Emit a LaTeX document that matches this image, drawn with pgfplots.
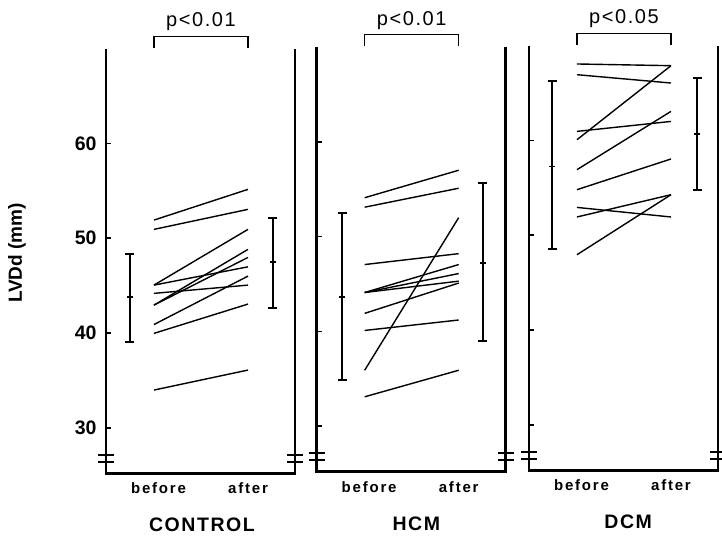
\documentclass[border=0pt]{standalone}
\usepackage{fontspec}
\setmainfont{Liberation Sans}
\newfontfamily\spaced[LetterSpace=8]{Liberation Sans}
\newfontfamily\spacedB[LetterSpace=12]{Liberation Sans}
\usepackage{pgfplots}
\pgfplotsset{compat=1.18}
\pgfplotsset{
 panel/.style={
  scale only axis, width=189pt, height=424.7pt,
  xmin=-0.51, xmax=1.5, ymin=25.2, ymax=70,
  clip=false,
  axis x line*=bottom, axis y line*=left,
  axis line style={draw=none},
  xtick={0,1}, xticklabels={\hspace*{9pt}before,after},
  x tick style={draw=none},
  major tick length=5pt,
  ytick={30,40,50,60},
  y tick style={line width=1.5pt, black},
  tick align=inside,
  xticklabel style={font=\spacedB\bfseries\fontsize{15}{15}\selectfont, yshift=-6pt},
  yticklabel style={font=\bfseries\fontsize{19.5}{19.5}\selectfont, xshift=-6pt},
  /pgf/number format/assume math mode=true,
  anchor=south west,
 },
 pair/.style={black, line width=1.4pt, no markers},
 ebar/.style={black, line width=2.2pt, mark=-, mark size=3pt, mark options={line width=1.5pt},
   error bars/.cd, y dir=both, y explicit,
   error mark=|,
   error bar style={line width=2.2pt},
   error mark options={line width=2pt, mark size=4.5pt}},
}
\newcommand{\frameit}{%
  \draw[line width=2.6pt] (axis cs:-0.51,70) -- (axis cs:-0.51,25.2) -- (axis cs:1.5,25.2) -- (axis cs:1.5,70);
  \draw[line width=2pt] (axis cs:-0.595,27.12) -- (axis cs:-0.425,27.12);
  \draw[line width=2pt] (axis cs:-0.595,26.40) -- (axis cs:-0.425,26.40);
  \draw[line width=2pt] (axis cs:1.415,27.12) -- (axis cs:1.585,27.12);
  \draw[line width=2pt] (axis cs:1.415,26.40) -- (axis cs:1.585,26.40);
  \draw[line width=1.5pt] (axis cs:0,70.1) -- (axis cs:0,71.3) -- (axis cs:1,71.3) -- (axis cs:1,70.1);
}
\begin{document}
\begin{tikzpicture}
\path[use as bounding box] (0,0) rectangle (722pt,537pt);
% ---------------- CONTROL
\begin{axis}[panel, at={(106pt,63.7pt)}]
\frameit
\node[font=\spaced\fontsize{20}{20}\selectfont, anchor=base] at (axis cs:0.5,72.28) {p<0.01};
\node[font=\spaced\bfseries\fontsize{19.5}{19.5}\selectfont, anchor=base] at (axis cs:0.51,19.04) {CONTROL};
\node[rotate=90, font=\bfseries\fontsize{19}{19}\selectfont] at (axis cs:-1.457,48.44) {LVDd (mm)};
\addplot[pair] coordinates {(0,51.91) (1,55.15)};
\addplot[pair] coordinates {(0,50.93) (1,53.04)};
\addplot[pair] coordinates {(0,45.05) (1,50.93)};
\addplot[pair] coordinates {(0,45.05) (1,46.98)};
\addplot[pair] coordinates {(0,44.18) (1,45.05)};
\addplot[pair] coordinates {(0,42.94) (1,48.82)};
\addplot[pair] coordinates {(0,42.94) (1,47.97)};
\addplot[pair] coordinates {(0,40.89) (1,46.00)};
\addplot[pair] coordinates {(0,39.96) (1,43.05)};
\addplot[pair] coordinates {(0,33.98) (1,36.09)};
\addplot[ebar] coordinates {(-0.255,43.8) += (0,4.5) -= (0,4.7)};
\addplot[ebar] coordinates {(1.265,47.5) += (0,4.6) -= (0,4.9)};
\end{axis}
% ---------------- HCM
\begin{axis}[panel, at={(316.7pt,65.3pt)}, yticklabels={}]
\frameit
\node[font=\spaced\fontsize{20}{20}\selectfont, anchor=base] at (axis cs:0.5,72.28) {p<0.01};
\node[font=\spaced\bfseries\fontsize{19.5}{19.5}\selectfont, anchor=base] at (axis cs:0.55,19.04) {HCM};
\addplot[pair] coordinates {(0,54.1) (1,57.0)};
\addplot[pair] coordinates {(0,53.1) (1,55.1)};
\addplot[pair] coordinates {(0,35.9) (1,52.0)};
\addplot[pair] coordinates {(0,47.05) (1,48.2)};
\addplot[pair] coordinates {(0,44.1) (1,47.05)};
\addplot[pair] coordinates {(0,44.1) (1,46.1)};
\addplot[pair] coordinates {(0,44.1) (1,45.3)};
\addplot[pair] coordinates {(0,41.9) (1,45.1)};
\addplot[pair] coordinates {(0,40.1) (1,41.2)};
\addplot[pair] coordinates {(0,33.1) (1,35.9)};
\addplot[ebar] coordinates {(-0.238,43.65) += (0,8.85) -= (0,8.75)};
\addplot[ebar] coordinates {(1.256,47.2) += (0,8.5) -= (0,8.2)};
\end{axis}
% ---------------- DCM
\begin{axis}[panel, at={(529pt,66.7pt)}, yticklabels={}]
\frameit
\node[font=\spaced\fontsize{20}{20}\selectfont, anchor=base] at (axis cs:0.5,72.28) {p<0.05};
\node[font=\spaced\bfseries\fontsize{19.5}{19.5}\selectfont, anchor=base] at (axis cs:0.545,19.04) {DCM};
\addplot[pair] coordinates {(0,68.06) (1,67.88)};
\addplot[pair] coordinates {(0,66.93) (1,66.05)};
\addplot[pair] coordinates {(0,60.07) (1,67.88)};
\addplot[pair] coordinates {(0,60.95) (1,62.0)};
\addplot[pair] coordinates {(0,56.91) (1,63.06)};
\addplot[pair] coordinates {(0,54.80) (1,58.04)};
\addplot[pair] coordinates {(0,52.93) (1,51.92)};
\addplot[pair] coordinates {(0,51.92) (1,54.27)};
\addplot[pair] coordinates {(0,47.94) (1,54.27)};
\addplot[ebar] coordinates {(-0.262,57.26) += (0,8.96) -= (0,8.72)};
\addplot[ebar] coordinates {(1.280,60.68) += (0,5.9) -= (0,5.95)};
\end{axis}
\end{tikzpicture}
\end{document}
